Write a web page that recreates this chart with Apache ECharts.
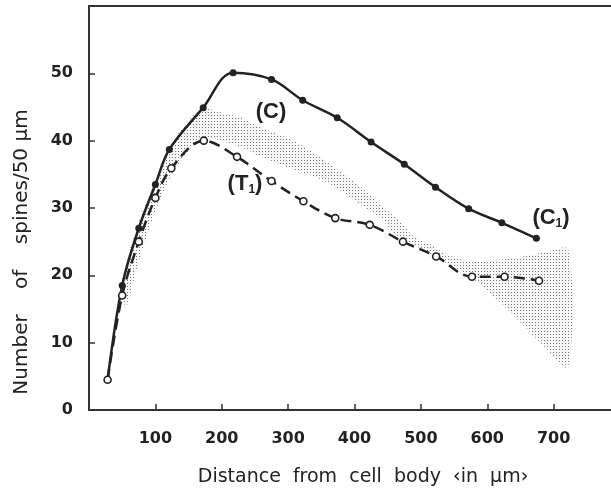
<!DOCTYPE html>
<html>
<head>
<meta charset="utf-8">
<script src="https://cdn.jsdelivr.net/npm/echarts@6/dist/echarts.min.js"></script>
<style>
html,body{margin:0;padding:0;background:#fff;}
#main{width:611px;height:494px;}
</style>
</head>
<body>
<div id="main"></div>
<script>
// ---- data ----
var cX = [28, 50, 75, 100, 121, 172, 217, 275, 322, 374, 425, 475, 522, 572, 622, 674];
var cY = [4.5, 18.5, 27, 33.5, 38.7, 44.9, 50.1, 49.1, 46.0, 43.4, 39.8, 36.5, 33.1, 29.9, 27.8, 25.5];

var tX = [28, 50, 75, 100, 124, 173, 223, 275, 323, 371, 423, 473, 523, 577, 626, 678];
var tY = [4.5, 17, 25, 31.5, 35.9, 40.0, 37.6, 34.0, 31.0, 28.5, 27.5, 25.0, 22.8, 19.8, 19.8, 19.2];

var bandX    = [55, 75, 100, 125, 150, 172, 200, 230, 258, 308, 359, 409, 439, 464, 489, 514, 539, 575, 615, 665, 685, 722];
var bandLow  = [15, 22, 29.5, 35, 38.5, 40.5, 40, 39, 37.7, 35.7, 33.8, 30.5, 28.5, 25.8, 24.5, 23.2, 21.8, 19.8, 16.4, 11.5, 9.5, 6.4];
var bandHigh = [21, 28, 34, 39.5, 43, 44.7, 44.2, 43.4, 42, 40, 36.8, 33.2, 30.5, 28.5, 25.8, 24.6, 23.1, 22.1, 22.3, 23.0, 23.4, 23.8];

var xTicks = [100, 200, 300, 400, 500, 600, 700];
var yTicks = [0, 10, 20, 30, 40, 50];

var xTitle = 'Distance  from  cell  body  \u2039in  \u03bcm\u203a';
var yTitle = 'Number    of    spines/50 \u03bcm';

function pairs(xs, ys) { return xs.map(function (x, i) { return [x, ys[i]]; }); }

// stipple pattern
var pat = document.createElement('canvas');
pat.width = 3; pat.height = 3;
var pc = pat.getContext('2d');
pc.fillStyle = 'rgba(0,0,0,0.03)';
pc.fillRect(0, 0, 3, 3);
pc.fillStyle = '#777';
pc.fillRect(1, 1, 1, 1);

var FONT = 'DejaVu Sans, Liberation Sans, Arial, sans-serif';
var INK = '#222';

var chart = echarts.init(document.getElementById('main'), null, {renderer: 'canvas'});
chart.setOption({
  animation: false,
  backgroundColor: '#fff',
  grid: {left: 89, top: 6, width: 531, height: 404, containLabel: false, outerBoundsMode: 'none',
    show: true, borderColor: '#333', borderWidth: 2, backgroundColor: 'transparent'},
  xAxis: {
    type: 'value', min: 0, max: 800,
    axisLine: {show: true, lineStyle: {color: '#333', width: 2}},
    axisTick: {show: true, inside: true, length: 6, customValues: xTicks, lineStyle: {color: '#333', width: 1.5}},
    axisLabel: {customValues: xTicks, margin: 21, color: INK, fontFamily: FONT, fontSize: 16, fontWeight: 'bold'},
    splitLine: {show: false}
  },
  yAxis: {
    type: 'value', min: 0, max: 60,
    axisLine: {show: true, lineStyle: {color: '#333', width: 2}},
    axisTick: {show: true, inside: true, length: 6, customValues: yTicks, lineStyle: {color: '#333', width: 1.5}},
    axisLabel: {customValues: yTicks, margin: 16, color: INK, fontFamily: FONT, fontSize: 16, fontWeight: 'bold'},
    splitLine: {show: false}
  },
  graphic: [
    {type: 'text', x: 363, y: 477, style: {text: xTitle, font: '19px ' + FONT, fill: INK, align: 'center', verticalAlign: 'middle'}},
    {type: 'text', x: 22, y: 252, rotation: Math.PI / 2,
      style: {text: yTitle, font: '20px ' + FONT, fill: INK, align: 'center', verticalAlign: 'middle'}},
    {type: 'text', x: 271, y: 112, style: {text: '(C)', font: 'bold 22px Liberation Sans, Arial, sans-serif', fill: INK, align: 'center', verticalAlign: 'middle'}},
    {type: 'text', x: 245, y: 184, style: {text: '(T{s|1})', font: 'bold 22px Liberation Sans, Arial, sans-serif', fill: INK, align: 'center', verticalAlign: 'middle',
      rich: {s: {fontSize: 12, fontWeight: 'bold', fontFamily: 'Liberation Sans', fill: INK, padding: [12, 0, 0, 0]}}}},
    {type: 'text', x: 551, y: 218, style: {text: '(C{s|1})', font: 'bold 22px Liberation Sans, Arial, sans-serif', fill: INK, align: 'center', verticalAlign: 'middle',
      rich: {s: {fontSize: 12, fontWeight: 'bold', fontFamily: 'Liberation Sans', fill: INK, padding: [12, 0, 0, 0]}}}}
  ],
  series: [
    {
      type: 'custom', z: 1, silent: true,
      data: pairs(bandX, bandLow),
      renderItem: function (params, api) {
        if (params.dataIndex !== 0) return null;
        var pts = [];
        for (var i = 0; i < bandX.length; i++) pts.push(api.coord([bandX[i], bandHigh[i]]));
        for (var j = bandX.length - 1; j >= 0; j--) pts.push(api.coord([bandX[j], bandLow[j]]));
        return {type: 'polygon', shape: {points: pts, smooth: 0.3}, style: {fill: {image: pat, repeat: 'repeat'}, stroke: null}};
      }
    },
    {
      name: 'C', type: 'line', z: 3, data: pairs(cX, cY), smooth: 0.35,
      symbol: 'circle', symbolSize: 7,
      lineStyle: {color: INK, width: 2.5},
      itemStyle: {color: INK}
    },
    {
      name: 'T1', type: 'line', z: 4, data: pairs(tX, tY), smooth: 0.35,
      symbol: 'circle', symbolSize: 7,
      lineStyle: {color: INK, width: 2.5, type: [11, 6]},
      itemStyle: {color: '#fff', borderColor: INK, borderWidth: 1.6}
    }
  ]
});
</script>
</body>
</html>
